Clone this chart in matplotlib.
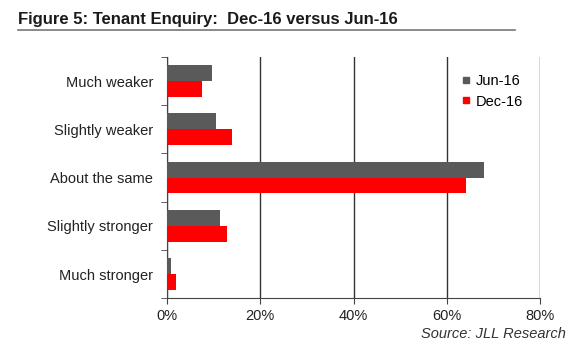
import numpy as np
import matplotlib
matplotlib.use("Agg")
import matplotlib.pyplot as plt
from matplotlib.lines import Line2D

plt.rcParams['font.family'] = ['Liberation Sans', 'DejaVu Sans']

categories = ["Much weaker", "Slightly weaker", "About the same",
              "Slightly stronger", "Much stronger"]
jun16 = [9.6, 10.4, 68.0, 11.3, 0.8]
dec16 = [7.4, 13.9, 64.1, 12.9, 1.9]
xticks = [0, 20, 40, 60, 80]
xticklabels = ["0%", "20%", "40%", "60%", "80%"]

fig = plt.figure(figsize=(5.8, 3.52), dpi=100)
ax = fig.add_axes([0.288, 0.153, 0.643, 0.685])

n = len(categories)
ypos = np.arange(n)[::-1]
h = 0.33
ax.barh(ypos + h / 2, jun16, height=h, color="#5a5a5a", label="Jun-16", zorder=3)
ax.barh(ypos - h / 2, dec16, height=h, color="#ff0000", label="Dec-16", zorder=3)

ax.set_xlim(0, 80)
ax.set_ylim(-0.5, n - 0.5)
ax.set_xticks(xticks)
ax.set_xticklabels(xticklabels, fontsize=10.5, color="#222222")
ax.set_yticks(ypos)
ax.set_yticklabels(categories, fontsize=10.5, color="#222222")
ax.set_yticks(np.arange(n + 1) - 0.5, minor=True)
ax.tick_params(axis="y", which="major", length=0, pad=10)
ax.tick_params(axis="y", which="minor", length=4, direction="out", color="#444444")
ax.tick_params(axis="x", length=4, direction="out", color="#444444")
ax.xaxis.grid(True, color="#333333", linewidth=1.0, zorder=0)
for s in ["top", "right"]:
    ax.spines[s].set_visible(False)
ax.spines["left"].set_color("#444444")
ax.spines["bottom"].set_color("#444444")

handles = [Line2D([], [], marker="s", linestyle="none", color="#5a5a5a", markersize=5),
           Line2D([], [], marker="s", linestyle="none", color="#ff0000", markersize=5)]
ax.legend(handles, ["Jun-16", "Dec-16"], loc="upper right", bbox_to_anchor=(0.975, 0.96),
          frameon=False, fontsize=10.5, handletextpad=0.1, labelspacing=0.45,
          borderpad=0, handlelength=1.2)

fig.text(0.031, 0.945, "Figure 5: Tenant Enquiry:  Dec-16 versus Jun-16",
         fontsize=12, fontweight="bold", va="center", ha="left", color="#1a1a1a")
fig.add_artist(Line2D([0.031, 0.888], [0.915, 0.915], color="#777777", linewidth=1.2))
fig.text(0.975, 0.052, "Source: JLL Research", fontsize=10.5, style="italic",
         ha="right", va="center", color="#333333")

fig.savefig("out.png", dpi=100)
